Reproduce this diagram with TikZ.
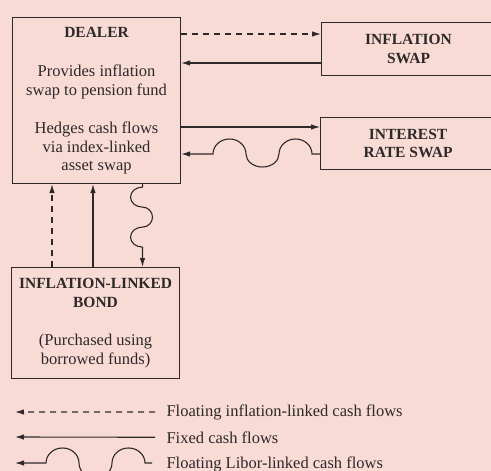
\documentclass[tikz,border=0pt]{standalone}
\usepackage{fontspec}
\setmainfont{Liberation Serif}
\usepackage{tikz}
\usetikzlibrary{arrows.meta}
\definecolor{bgpink}{RGB}{249,219,214}
\definecolor{ink}{RGB}{45,41,41}
\newcommand{\boxhead}[1]{{\fontsize{15.5}{18.5}\selectfont\bfseries #1}}

\begin{document}
\begin{tikzpicture}[x=1pt, y=-1pt, line width=1.1pt, draw=ink, text=ink,
	>={Latex[length=9pt,width=5.5pt]},
	box/.style={draw, rectangle, inner sep=0pt, align=center, anchor=north west,
		font=\fontsize{16.5}{18.5}\selectfont},
	dashline/.style={dash pattern=on 6pt off 5pt},
	legtext/.style={inner sep=0pt, anchor=base west, font=\fontsize{16.5}{18.5}\selectfont}]
\useasboundingbox (0,0) rectangle (491,471);
\clip (0,0) rectangle (491,471);
\fill[bgpink] (0,0) rectangle (491,471);

\node[box, minimum width=168pt, minimum height=166pt] (dealer) at (12,17)
	{\boxhead{DEALER}\\[21pt] Provides inflation\\ swap to pension fund\\[20pt]
	 Hedges cash flows\\ via index-linked\\ asset swap};
\node[box, minimum width=174pt, minimum height=53pt] (infswap) at (321,22)
	{\boxhead{INFLATION}\\ \boxhead{SWAP}};
\node[box, minimum width=175pt, minimum height=52pt] (irswap) at (320,117)
	{\boxhead{INTEREST}\\ \boxhead{RATE SWAP}};
\node[box, minimum width=168pt, minimum height=111pt] (bond) at (11,267)
	{\boxhead{INFLATION-LINKED}\\ \boxhead{BOND}\\[20pt] (Purchased using\\ borrowed funds)};

\draw[->, dashline] ([yshift=-17pt]dealer.north east) -- ([yshift=-12pt]infswap.north west);
\draw[->] ([yshift=-41pt]infswap.north west) -- ([yshift=-46pt]dealer.north east);
\draw[->] ([yshift=-110pt]dealer.north east) -- ([yshift=-10pt]irswap.north west);
\draw[->] ([yshift=-37pt]irswap.north west) -- ++(-8,0)
	arc[start angle=0, end angle=-180, x radius=16.5, y radius=15]
	arc[start angle=0, end angle=180, x radius=16.5, y radius=13]
	arc[start angle=0, end angle=-180, x radius=16.5, y radius=15]
	-- ([yshift=-137pt]dealer.north east);

\draw[->, dashline] ([xshift=41pt]bond.north west) -- ([xshift=40pt]dealer.south west);
\draw[->] ([xshift=82pt]bond.north west) -- ([xshift=81pt]dealer.south west);
\draw[->] ([xshift=130.5pt]dealer.south west) -- ++(0,3)
	arc[start angle=-90, end angle=-270, x radius=12, y radius=10]
	arc[start angle=-90, end angle=90, x radius=10, y radius=10]
	arc[start angle=-90, end angle=-270, x radius=12, y radius=10]
	-- ([xshift=131.5pt]bond.north west);

\node[legtext] (legfloat) at (166,416) {Floating inflation-linked cash flows};
\node[legtext] (legfixed) at (166,443) {Fixed cash flows};
\node[legtext] (leglibor) at (166,468) {Floating Libor-linked cash flows};
\coordinate (tipfloat) at (15,412);
\coordinate (tipfixed) at (15,437);
\coordinate (tiplibor) at (15,463);

\draw[->, dashline] ([xshift=-11pt]legfloat.west) -- (tipfloat);
\draw[->] ([xshift=-11pt]legfixed.west) -- (tipfixed);
\draw[->] ([xshift=-14pt]leglibor.west |- tiplibor) -- ++(-7,0)
	arc[start angle=0, end angle=-180, x radius=16.5, y radius=15]
	arc[start angle=0, end angle=180, x radius=16.5, y radius=15]
	arc[start angle=0, end angle=-180, x radius=16.5, y radius=15]
	-- (tiplibor);
\end{tikzpicture}
\end{document}
